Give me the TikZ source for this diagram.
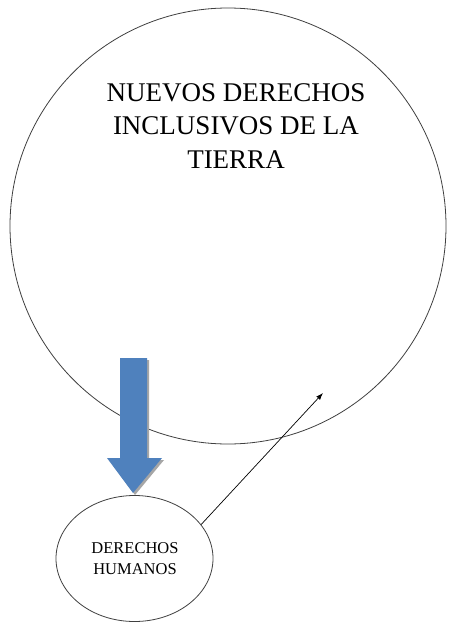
\documentclass[tikz,border=0pt]{standalone}
\usepackage{fontspec}
\setmainfont{Liberation Serif}
\usetikzlibrary{arrows.meta,shapes.geometric}
\begin{document}
\begin{tikzpicture}[x=1pt,y=1pt,
  outline/.style={draw=black!75,line width=0.8pt},
  bigtext/.style={font=\fontsize{27}{33.5}\selectfont,align=center,inner sep=0pt},
  smalltext/.style={font=\fontsize{16.5}{21}\selectfont,align=center,inner sep=0pt},
  bluearrow/.style={fill={rgb,255:red,79;green,129;blue,189}},
  arrowshadow/.style={fill=black!35},
  thinarrow/.style={draw=black,line width=0.7pt,-{Latex[length=7pt,width=5pt]}}]
\useasboundingbox (0,0) rectangle (456,-626);
\fill[white] (0,0) rectangle (456,-626);
% big circle
\node[outline,circle,minimum size=436pt,inner sep=0pt] (big) at (228,-226) {};
\node[bigtext,anchor=base] (bigt) at (236,-168) {NUEVOS DERECHOS\\INCLUSIVOS DE LA\\TIERRA};
% small ellipse
\node[outline,ellipse,minimum width=157pt,minimum height=126pt,inner sep=0pt] (small) at (134.5,-558.5) {};
\node[smalltext,anchor=base] (smallt) at (135,-574) {DERECHOS\\HUMANOS};
% blue block arrow with shadow
\fill[arrowshadow] (122,-360) -- (149,-360) -- (149,-460) -- (164,-460) -- (135,-495) -- (109,-460) -- (122,-460) -- cycle;
\fill[bluearrow] (120,-358) -- (147,-358) -- (147,-458) -- (162,-458) -- (133,-493) -- (107,-458) -- (120,-458) -- cycle;
% thin arrow
\coordinate (tip) at (323,-393);
\draw[thinarrow] (small.27) -- (tip);
\end{tikzpicture}
\end{document}
